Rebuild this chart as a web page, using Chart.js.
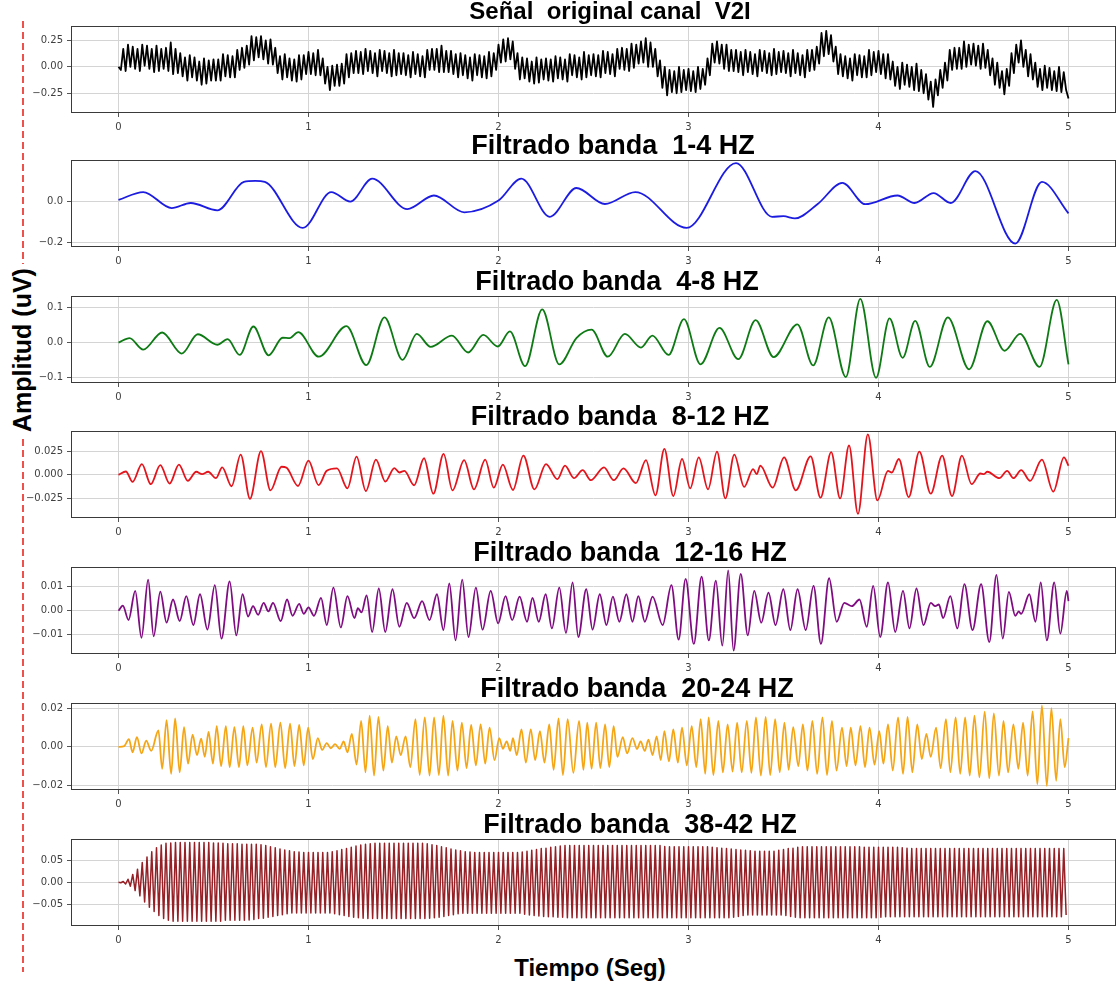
<!DOCTYPE html>
<html>
<head>
<meta charset="utf-8">
<script src="https://cdn.jsdelivr.net/npm/chart.js@4.4.1/dist/chart.umd.min.js"></script>
<style>
  body { margin: 0; width: 1119px; height: 989px; overflow: hidden; position: relative; background: #fff;
         font-family: "Liberation Sans", Arial, sans-serif; }
  .title { position: absolute; width: 600px; text-align: center; font-weight: bold;
           font-size: 27px; line-height: 30px; color: #000; white-space: pre; }
  .title.first { font-size: 24px; }
  #xlabel { position: absolute; left: 390px; top: 953px; width: 400px; text-align: center;
            font-weight: bold; font-size: 24px; line-height: 30px; }
  #ylabel { position: absolute; left: -98px; top: 335px; width: 240px; height: 30px; text-align: center;
            transform: rotate(-90deg); font-weight: bold; font-size: 25px; line-height: 30px; }
  #ylabel span { background: #fff; padding: 0 4px; }
  #guide { position: absolute; left: 0; top: 0; }
</style>
</head>
<body>
<svg id="guide" width="40" height="989"><line x1="23" y1="21" x2="23" y2="972" stroke="#e8281e" stroke-width="1.6" stroke-dasharray="7 4"/></svg>
<div id="ylabel"><span>Amplitud (uV)</span></div>
<div id="xlabel">Tiempo (Seg)</div>
<script>
// time axis
const xTicks = [0, 1, 2, 3, 4, 5];
const xTickLabels = ['0', '1', '2', '3', '4', '5'];

// y ticks per panel
const ticksRaw = [-0.25, 0, 0.25];
const labelsRaw = ['\u22120.25', '0.00', '0.25'];
const ticks1to4 = [-0.2, 0];
const labels1to4 = ['\u22120.2', '0.0'];
const ticks4to8 = [-0.1, 0, 0.1];
const labels4to8 = ['\u22120.1', '0.0', '0.1'];
const ticks8to12 = [-0.025, 0, 0.025];
const labels8to12 = ['\u22120.025', '0.000', '0.025'];
const ticks12to16 = [-0.01, 0, 0.01];
const labels12to16 = ['\u22120.01', '0.00', '0.01'];
const ticks20to24 = [-0.02, 0, 0.02];
const labels20to24 = ['\u22120.02', '0.00', '0.02'];
const ticks38to42 = [-0.05, 0, 0.05];
const labels38to42 = ['\u22120.05', '0.00', '0.05'];

// original signal: upper and lower spikes of each 40 Hz cycle (sampled every 12.5 ms)
const RAW_STEP = 0.0125;
const rawHi = [
  0.00,0.17,0.21,0.19,0.17,0.21,0.20,0.17,0.20,0.17,
  0.18,0.23,0.17,0.13,0.09,0.11,0.09,0.05,0.08,0.06,
  0.07,0.07,0.12,0.11,0.10,0.16,0.18,0.20,0.29,0.28,
  0.29,0.25,0.26,0.18,0.10,0.12,0.08,0.07,0.11,0.11,
  0.14,0.13,0.16,0.08,0.00,0.01,0.02,0.03,0.12,0.13,
  0.15,0.14,0.17,0.15,0.13,0.16,0.15,0.13,0.16,0.13,
  0.13,0.11,0.14,0.12,0.10,0.16,0.17,0.17,0.20,0.15,
  0.15,0.12,0.13,0.11,0.09,0.12,0.11,0.10,0.14,0.13,
  0.21,0.26,0.27,0.24,0.13,0.09,0.08,0.05,0.09,0.07,
  0.08,0.07,0.10,0.09,0.07,0.12,0.11,0.09,0.14,0.11,
  0.12,0.11,0.15,0.14,0.12,0.17,0.18,0.17,0.22,0.21,
  0.24,0.27,0.23,0.17,0.06,0.00,-0.03,-0.04,0.00,-0.03,
  -0.02,-0.04,0.00,-0.02,0.08,0.22,0.24,0.21,0.21,0.16,
  0.16,0.14,0.16,0.14,0.12,0.16,0.15,0.13,0.17,0.14,
  0.15,0.13,0.16,0.13,0.11,0.16,0.16,0.19,0.32,0.34,
  0.30,0.19,0.12,0.10,0.08,0.12,0.11,0.10,0.16,0.14,
  0.15,0.12,0.12,0.05,0.00,0.04,0.02,0.00,0.03,-0.03,
  -0.07,-0.14,-0.12,-0.03,0.04,0.16,0.18,0.18,0.24,0.21,
  0.22,0.20,0.22,0.16,0.08,0.04,-0.04,-0.02,0.13,0.21,
  0.25,0.16,0.12,0.04,-0.02,0.01,-0.01,-0.04,0.00,-0.05
];
const rawLo = [
  -0.03,-0.04,0.00,-0.02,-0.04,0.01,-0.02,-0.05,-0.04,-0.02,
  -0.04,-0.07,-0.06,-0.09,-0.13,-0.10,-0.13,-0.17,-0.16,-0.13,
  -0.13,-0.13,-0.09,-0.10,-0.10,-0.03,-0.01,0.02,0.06,0.09,
  0.07,0.03,0.02,-0.06,-0.12,-0.10,-0.13,-0.14,-0.12,-0.07,
  -0.07,-0.08,-0.08,-0.16,-0.22,-0.18,-0.18,-0.16,-0.10,-0.06,
  -0.06,-0.07,-0.04,-0.06,-0.09,-0.04,-0.06,-0.09,-0.08,-0.07,
  -0.08,-0.10,-0.07,-0.09,-0.10,-0.03,-0.03,-0.05,-0.05,-0.05,
  -0.07,-0.10,-0.08,-0.11,-0.13,-0.08,-0.10,-0.11,-0.09,-0.03,
  0.04,0.05,0.07,-0.02,-0.12,-0.11,-0.14,-0.16,-0.15,-0.12,
  -0.13,-0.14,-0.11,-0.12,-0.14,-0.08,-0.10,-0.12,-0.10,-0.08,
  -0.09,-0.10,-0.06,-0.07,-0.09,-0.02,-0.03,-0.04,-0.01,0.03,
  0.04,0.00,0.00,-0.09,-0.20,-0.27,-0.24,-0.25,-0.24,-0.22,
  -0.23,-0.24,-0.21,-0.17,-0.08,0.04,0.03,-0.02,-0.04,-0.04,
  -0.05,-0.08,-0.05,-0.07,-0.09,-0.04,-0.06,-0.08,-0.07,-0.05,
  -0.06,-0.09,-0.06,-0.08,-0.10,-0.04,-0.03,0.03,0.10,0.12,
  0.05,-0.07,-0.09,-0.11,-0.13,-0.08,-0.10,-0.10,-0.08,-0.05,
  -0.07,-0.11,-0.12,-0.18,-0.21,-0.17,-0.19,-0.22,-0.23,-0.25,
  -0.31,-0.38,-0.27,-0.20,-0.13,-0.03,-0.02,-0.02,0.00,0.02,
  0.01,-0.02,-0.01,-0.08,-0.17,-0.20,-0.26,-0.18,-0.06,0.04,
  0.00,-0.09,-0.12,-0.19,-0.22,-0.20,-0.22,-0.23,-0.24,-0.22
];
const rawLast = [5.0, -0.30];

// band-filtered signals: [time (s), amplitude] at each turning point
const band1to4 = [
  [0,0.008],[0.13,0.047],[0.28,-0.032],[0.38,-0.007],[0.52,-0.043],[0.66,0.097],[0.72,0.102],
  [0.77,0.097],[0.97,-0.13],[1.12,0.047],[1.22,0.0],[1.335,0.113],[1.52,-0.037],[1.66,0.03],
  [1.82,-0.053],[2.0,0.005],[2.12,0.113],[2.27,-0.075],[2.41,0.067],[2.56,-0.012],[2.72,0.047],
  [2.99,-0.13],[3.25,0.19],[3.44,-0.075],[3.5,-0.072],[3.56,-0.083],[3.68,-0.012],[3.81,0.092],
  [3.93,-0.013],[4.1,0.03],[4.19,-0.007],[4.29,0.042],[4.38,-0.007],[4.51,0.15],[4.72,-0.207],
  [4.86,0.097],[5.0,-0.058]
];
const band4to8 = [
  [0,0],[0.058,0.013],[0.13,-0.02],[0.23,0.029],[0.333,-0.031],[0.417,0.024],[0.52,-0.006],
  [0.574,0.01],[0.638,-0.035],[0.71,0.046],[0.79,-0.036],[0.864,0.014],[0.9,0.013],[0.946,0.03],
  [1.054,-0.04],[1.2,0.047],[1.304,-0.064],[1.4,0.072],[1.495,-0.049],[1.57,0.025],[1.643,-0.012],
  [1.755,0.02],[1.84,-0.028],[1.92,0.022],[1.996,-0.011],[2.06,0.032],[2.14,-0.067],[2.23,0.095],
  [2.32,-0.062],[2.41,0.013],[2.49,0.037],[2.575,-0.04],[2.665,0.025],[2.75,-0.014],[2.81,0.02],
  [2.895,-0.035],[2.976,0.067],[3.063,-0.062],[3.163,0.042],[3.262,-0.047],[3.353,0.064],
  [3.448,-0.041],[3.573,0.052],[3.656,-0.065],[3.738,0.072],[3.828,-0.098],[3.904,0.125],
  [3.987,-0.1],[4.058,0.069],[4.127,-0.043],[4.193,0.062],[4.27,-0.069],[4.365,0.072],
  [4.477,-0.076],[4.573,0.061],[4.664,-0.023],[4.745,0.025],[4.848,-0.069],[4.938,0.122],[5.0,-0.062]
];
const band8to12 = [
  [0,0],[0.039,0.0036],[0.074,-0.0076],[0.123,0.0116],[0.17,-0.0101],[0.22,0.0105],[0.269,-0.0094],
  [0.318,0.0109],[0.365,-0.0065],[0.409,0.0033],[0.44,0.0007],[0.472,0.0033],[0.513,-0.0036],
  [0.546,0.008],[0.595,-0.0123],[0.643,0.0217],[0.692,-0.0257],[0.75,0.0254],[0.8,-0.0167],
  [0.858,0.0087],[0.885,0.0075],[0.945,-0.012],[1.0,0.0152],[1.053,-0.011],[1.096,0.0043],
  [1.15,0.0069],[1.205,-0.0145],[1.253,0.0196],[1.302,-0.0174],[1.355,0.0163],[1.404,-0.0072],
  [1.452,0.0072],[1.478,0.0025],[1.505,0.0043],[1.556,-0.0112],[1.608,0.0178],[1.657,-0.0203],
  [1.711,0.0225],[1.758,-0.0167],[1.819,0.0159],[1.871,-0.0156],[1.93,0.0163],[1.975,-0.0138],
  [2.023,0.0109],[2.076,-0.0163],[2.131,0.0207],[2.189,-0.0156],[2.25,0.0116],[2.31,-0.0047],
  [2.35,0.0098],[2.397,-0.0036],[2.443,0.005],[2.486,-0.0058],[2.555,0.008],[2.607,-0.0058],
  [2.658,0.0069],[2.723,-0.009],[2.776,0.0159],[2.826,-0.0221],[2.873,0.0279],[2.92,-0.0228],
  [2.966,0.017],[3.009,-0.0145],[3.054,0.0188],[3.103,-0.0156],[3.15,0.025],[3.194,-0.0254],
  [3.241,0.0217],[3.293,-0.013],[3.34,0.0062],[3.359,0.0007],[3.378,0.0098],[3.443,-0.0138],
  [3.503,0.0188],[3.565,-0.0167],[3.643,0.0199],[3.695,-0.0246],[3.751,0.0243],[3.798,-0.0254],
  [3.845,0.0315],[3.892,-0.042],[3.944,0.0435],[3.994,-0.0275],[4.05,0.0043],[4.07,0.0025],
  [4.107,0.017],[4.159,-0.0239],[4.215,0.025],[4.275,-0.0203],[4.335,0.0207],[4.387,-0.0228],
  [4.439,0.0207],[4.49,-0.0101],[4.536,0.0014],[4.555,0.0007],[4.573,0.0033],[4.636,-0.0036],
  [4.677,0.0043],[4.71,-0.0036],[4.751,0.005],[4.798,-0.0065],[4.86,0.0163],[4.92,-0.0181],
  [4.976,0.0188],[5.0,0.0098]
];
const band12to16 = [
  [0,0],[0.023,0.0021],[0.053,-0.0039],[0.088,0.0083],[0.121,-0.0113],[0.156,0.013],[0.185,-0.0107],
  [0.22,0.008],[0.253,-0.005],[0.287,0.0047],[0.322,-0.0043],[0.357,0.0061],[0.394,-0.006],
  [0.429,0.0069],[0.468,-0.0079],[0.507,0.0107],[0.542,-0.0117],[0.585,0.0123],[0.62,-0.0103],
  [0.653,0.0069],[0.682,-0.0024],[0.708,0.0019],[0.735,-0.0017],[0.764,0.0033],[0.789,-0.0003],
  [0.813,0.0033],[0.854,-0.0043],[0.887,0.0047],[0.916,-0.0021],[0.951,0.0029],[0.975,-0.0013],
  [1.0,0.0014],[1.029,-0.0021],[1.066,0.0054],[1.096,-0.006],[1.131,0.0097],[1.17,-0.007],
  [1.205,0.0061],[1.242,-0.0031],[1.26,0.0011],[1.279,-0.0007],[1.306,0.0064],[1.335,-0.0089],
  [1.37,0.0093],[1.404,-0.0089],[1.442,0.009],[1.478,-0.0067],[1.517,0.0033],[1.556,-0.0031],
  [1.598,0.004],[1.637,-0.0039],[1.676,0.0069],[1.71,-0.0081],[1.741,0.0114],[1.774,-0.0124],
  [1.809,0.013],[1.842,-0.011],[1.881,0.0097],[1.916,-0.0079],[1.959,0.0083],[1.998,-0.0053],
  [2.037,0.0061],[2.072,-0.0039],[2.111,0.0059],[2.15,-0.0046],[2.179,0.0054],[2.212,-0.0046],
  [2.248,0.0069],[2.281,-0.0074],[2.32,0.0097],[2.355,-0.0093],[2.39,0.0119],[2.42,-0.011],
  [2.462,0.009],[2.495,-0.0079],[2.533,0.0069],[2.568,-0.006],[2.602,0.0059],[2.636,-0.0046],
  [2.673,0.0069],[2.705,-0.0046],[2.736,0.0061],[2.77,-0.0046],[2.811,0.0059],[2.864,-0.006],
  [2.91,0.0107],[2.948,-0.0121],[2.985,0.0133],[3.028,-0.0139],[3.069,0.0143],[3.107,-0.0124],
  [3.144,0.0126],[3.178,-0.0146],[3.209,0.0169],[3.237,-0.0167],[3.275,0.0154],[3.312,-0.0103],
  [3.346,0.0083],[3.383,-0.005],[3.421,0.0076],[3.458,-0.006],[3.499,0.009],[3.536,-0.0081],
  [3.574,0.009],[3.617,-0.0081],[3.658,0.0104],[3.697,-0.0139],[3.74,0.0136],[3.78,-0.0046],
  [3.82,0.0033],[3.86,0.0019],[3.9,0.0047],[3.938,-0.0067],[3.972,0.0104],[4.009,-0.011],
  [4.05,0.0119],[4.088,-0.0089],[4.129,0.0083],[4.163,-0.0074],[4.2,0.0093],[4.237,-0.006],
  [4.275,0.0033],[4.299,0.0019],[4.318,0.0026],[4.34,-0.0031],[4.378,0.0061],[4.415,-0.0074],
  [4.452,0.0111],[4.495,-0.0081],[4.54,0.0111],[4.583,-0.0131],[4.621,0.015],[4.654,-0.0117],
  [4.686,0.0079],[4.72,-0.0021],[4.738,-0.0003],[4.751,-0.0013],[4.794,0.0069],[4.826,-0.0046],
  [4.854,0.0119],[4.886,-0.0124],[4.925,0.0119],[4.957,-0.0096],[4.991,0.0083],[5.0,0.004]
];
const band20to24 = [
  [0,0],[0.03,0.0004],[0.055,0.004],[0.074,-0.0028],[0.097,0.005],[0.121,-0.0034],[0.146,0.0032],
  [0.172,-0.0021],[0.21,0.0085],[0.23,-0.0114],[0.253,0.0139],[0.277,-0.014],[0.298,0.0148],
  [0.322,-0.0132],[0.345,0.0103],[0.366,-0.0087],[0.39,0.0064],[0.413,-0.0043],[0.435,0.0043],
  [0.454,-0.0052],[0.474,0.0078],[0.497,-0.0087],[0.517,0.0108],[0.54,-0.01],[0.565,0.0108],
  [0.585,-0.0105],[0.61,0.0103],[0.634,-0.0105],[0.657,0.0108],[0.678,-0.0096],[0.706,0.01],
  [0.727,-0.0082],[0.754,0.0117],[0.776,-0.0105],[0.803,0.0121],[0.825,-0.0105],[0.852,0.0126],
  [0.877,-0.011],[0.903,0.0121],[0.926,-0.01],[0.951,0.0114],[0.975,-0.0096],[0.998,0.01],
  [1.023,-0.0064],[1.049,0.0046],[1.072,-0.0016],[1.096,0.002],[1.117,-0.0007],[1.14,0.0014],
  [1.164,-0.001],[1.185,0.0028],[1.205,-0.0028],[1.228,0.0068],[1.253,-0.0092],[1.277,0.0135],
  [1.3,-0.0132],[1.322,0.0162],[1.345,-0.0149],[1.368,0.0156],[1.394,-0.0123],[1.417,0.0108],
  [1.439,-0.0082],[1.462,0.0055],[1.485,-0.0043],[1.511,0.0055],[1.536,-0.0105],[1.563,0.0144],
  [1.585,-0.0146],[1.612,0.0153],[1.637,-0.0149],[1.661,0.0153],[1.686,-0.0146],[1.71,0.0162],
  [1.735,-0.0149],[1.758,0.0135],[1.784,-0.0123],[1.807,0.0126],[1.832,-0.011],[1.856,0.0114],
  [1.881,-0.0096],[1.906,0.0117],[1.93,-0.0087],[1.953,0.01],[1.979,-0.0069],[2.004,0.0046],
  [2.023,-0.001],[2.043,0.0028],[2.062,-0.0021],[2.076,0.0046],[2.096,-0.0043],[2.121,0.0091],
  [2.144,-0.0082],[2.17,0.0091],[2.193,-0.0069],[2.218,0.0082],[2.242,-0.0082],[2.267,0.0117],
  [2.29,-0.0119],[2.316,0.0148],[2.339,-0.0146],[2.364,0.0144],[2.394,-0.0135],[2.424,0.0135],
  [2.447,-0.0119],[2.467,0.0126],[2.49,-0.0114],[2.514,0.0126],[2.536,-0.011],[2.561,0.0117],
  [2.583,-0.0105],[2.606,0.0108],[2.626,-0.0052],[2.654,0.005],[2.677,-0.0034],[2.705,0.0046],
  [2.729,-0.0011],[2.748,0.0028],[2.77,-0.0021],[2.789,0.0037],[2.811,-0.0043],[2.832,0.0055],
  [2.854,-0.0069],[2.873,0.0082],[2.897,-0.0075],[2.92,0.0091],[2.944,-0.0082],[2.966,0.01],
  [2.991,-0.0096],[3.017,0.0108],[3.041,-0.0105],[3.064,0.0144],[3.088,-0.014],[3.106,0.0153],
  [3.131,-0.0146],[3.157,0.0135],[3.181,-0.0132],[3.206,0.0117],[3.232,-0.0128],[3.256,0.0126],
  [3.28,-0.0132],[3.307,0.0135],[3.331,-0.0135],[3.355,0.0153],[3.381,-0.0149],[3.406,0.0156],
  [3.43,-0.0146],[3.456,0.0144],[3.48,-0.0132],[3.505,0.0126],[3.527,-0.0119],[3.551,0.0103],
  [3.578,-0.01],[3.602,0.0117],[3.626,-0.0123],[3.652,0.0135],[3.677,-0.014],[3.705,0.0153],
  [3.729,-0.0146],[3.755,0.0135],[3.779,-0.0123],[3.808,0.01],[3.832,-0.01],[3.854,0.01],
  [3.879,-0.0096],[3.905,0.0108],[3.929,-0.0105],[3.953,0.01],[3.979,-0.0092],[4.004,0.0082],
  [4.026,-0.0087],[4.05,0.0117],[4.075,-0.0123],[4.103,0.0153],[4.129,-0.014],[4.153,0.0156],
  [4.178,-0.0132],[4.204,0.0117],[4.228,-0.0064],[4.252,0.0068],[4.275,-0.0052],[4.303,0.01],
  [4.327,-0.011],[4.355,0.0144],[4.378,-0.0132],[4.406,0.0153],[4.43,-0.014],[4.456,0.0153],
  [4.48,-0.0149],[4.505,0.0162],[4.531,-0.0158],[4.559,0.0183],[4.583,-0.0164],[4.607,0.0174],
  [4.634,-0.0149],[4.658,0.0135],[4.682,-0.0132],[4.71,0.0117],[4.736,-0.0114],[4.761,0.0126],
  [4.785,-0.0149],[4.811,0.0185],[4.836,-0.0194],[4.86,0.0215],[4.886,-0.0203],[4.91,0.0201],
  [4.935,-0.0176],[4.957,0.0144],[4.98,-0.0105],[5.0,0.0046]
];

// 38-42 Hz band: crest and trough of each 40 Hz cycle
const BAND38_STEP = 0.0125;
const band38to42Hi = [
  0.000,0.002,0.007,0.018,0.030,0.045,0.058,0.070,0.079,0.085,
  0.089,0.090,0.091,0.091,0.091,0.091,0.091,0.091,0.091,0.091,
  0.090,0.090,0.089,0.088,0.088,0.088,0.087,0.087,0.087,0.087,
  0.086,0.084,0.081,0.079,0.076,0.074,0.072,0.070,0.069,0.068,
  0.068,0.068,0.068,0.068,0.068,0.070,0.072,0.075,0.077,0.080,
  0.083,0.085,0.087,0.088,0.089,0.089,0.089,0.089,0.089,0.089,
  0.089,0.089,0.089,0.089,0.089,0.088,0.086,0.084,0.081,0.079,
  0.076,0.074,0.072,0.070,0.069,0.068,0.068,0.068,0.068,0.068,
  0.068,0.068,0.068,0.068,0.068,0.069,0.071,0.073,0.075,0.077,
  0.078,0.080,0.081,0.083,0.084,0.084,0.084,0.084,0.084,0.084,
  0.084,0.084,0.084,0.084,0.084,0.084,0.084,0.084,0.084,0.084,
  0.084,0.084,0.084,0.084,0.084,0.082,0.081,0.081,0.081,0.081,
  0.081,0.081,0.081,0.081,0.081,0.080,0.079,0.078,0.077,0.076,
  0.075,0.074,0.073,0.072,0.071,0.071,0.071,0.071,0.071,0.073,
  0.075,0.077,0.078,0.080,0.081,0.081,0.081,0.081,0.081,0.081,
  0.081,0.081,0.081,0.081,0.081,0.081,0.081,0.080,0.080,0.080,
  0.080,0.080,0.080,0.080,0.080,0.079,0.078,0.077,0.077,0.077,
  0.077,0.077,0.077,0.077,0.077,0.077,0.077,0.077,0.077,0.077,
  0.077,0.077,0.077,0.077,0.077,0.077,0.077,0.077,0.077,0.077,
  0.077,0.077,0.077,0.077,0.077,0.077,0.077,0.077,0.077,0.077
];
const band38to42Lo = [
  -0.001,-0.004,-0.009,-0.019,-0.031,-0.045,-0.057,-0.067,-0.076,-0.083,
  -0.087,-0.089,-0.089,-0.089,-0.089,-0.089,-0.089,-0.089,-0.089,-0.089,
  -0.089,-0.089,-0.087,-0.087,-0.087,-0.087,-0.087,-0.086,-0.085,-0.083,
  -0.082,-0.080,-0.078,-0.076,-0.074,-0.072,-0.070,-0.070,-0.070,-0.070,
  -0.070,-0.070,-0.070,-0.070,-0.070,-0.072,-0.074,-0.076,-0.078,-0.080,
  -0.081,-0.082,-0.083,-0.083,-0.083,-0.083,-0.083,-0.083,-0.083,-0.083,
  -0.083,-0.083,-0.083,-0.083,-0.083,-0.082,-0.081,-0.080,-0.078,-0.076,
  -0.074,-0.072,-0.071,-0.071,-0.071,-0.071,-0.071,-0.071,-0.071,-0.071,
  -0.071,-0.071,-0.071,-0.071,-0.071,-0.073,-0.075,-0.076,-0.077,-0.078,
  -0.079,-0.079,-0.080,-0.080,-0.081,-0.081,-0.081,-0.081,-0.081,-0.081,
  -0.081,-0.081,-0.081,-0.081,-0.081,-0.081,-0.081,-0.081,-0.081,-0.081,
  -0.081,-0.081,-0.081,-0.081,-0.081,-0.081,-0.081,-0.081,-0.081,-0.081,
  -0.081,-0.081,-0.081,-0.081,-0.081,-0.081,-0.081,-0.081,-0.081,-0.080,
  -0.078,-0.076,-0.075,-0.075,-0.075,-0.075,-0.075,-0.075,-0.075,-0.075,
  -0.076,-0.078,-0.080,-0.081,-0.081,-0.081,-0.081,-0.081,-0.081,-0.081,
  -0.081,-0.081,-0.081,-0.081,-0.081,-0.081,-0.081,-0.081,-0.081,-0.081,
  -0.080,-0.079,-0.079,-0.079,-0.079,-0.079,-0.079,-0.079,-0.079,-0.079,
  -0.079,-0.079,-0.079,-0.079,-0.079,-0.079,-0.079,-0.079,-0.079,-0.079,
  -0.079,-0.079,-0.079,-0.079,-0.079,-0.079,-0.079,-0.079,-0.079,-0.079,
  -0.079,-0.079,-0.079,-0.079,-0.079,-0.079,-0.079,-0.079,-0.079,-0.075
];

// layout of each axes box
const PLOT_LEFT = 71;
const PLOT_RIGHT = 1116;
const PLOT_H = 87;
const PAD_TOP = 12;
const AXIS_H = 26;
const CANVAS_W = 1124;

function toPoints(pairs) {
    return pairs.map(([x, y]) => ({ x, y }));
}

// crest / trough pairs laid out one half-step apart
function zigzag(hi, lo, step) {
    const pts = [];
    hi.forEach((v, i) => {
        pts.push({ x: 2 * i * step, y: v });
        pts.push({ x: (2 * i + 1) * step, y: lo[i] });
    });
    return pts;
}

const panels = [
    { title: 'Señal  original canal  V2I', first: true, top: 26, titleX: 610, color: '#000000', width: 1.8,
      min: -0.437, max: 0.386, ticks: ticksRaw, labels: labelsRaw, smooth: false,
      points: zigzag(rawHi, rawLo, RAW_STEP).concat([{ x: rawLast[0], y: rawLast[1] }]) },
    { title: 'Filtrado banda  1-4 HZ', top: 160, titleX: 613, color: '#1c1ce0', width: 1.8, min: -0.224, max: 0.205,
      ticks: ticks1to4, labels: labels1to4, smooth: true, points: toPoints(band1to4) },
    { title: 'Filtrado banda  4-8 HZ', top: 296, titleX: 617, color: '#0d7a14', width: 1.8, min: -0.115, max: 0.133,
      ticks: ticks4to8, labels: labels4to8, smooth: true, points: toPoints(band4to8) },
    { title: 'Filtrado banda  8-12 HZ', top: 431, titleX: 620, color: '#e3141c', width: 1.8, min: -0.0464, max: 0.0471,
      ticks: ticks8to12, labels: labels8to12, smooth: true, points: toPoints(band8to12) },
    { title: 'Filtrado banda  12-16 HZ', top: 567, titleX: 630, color: '#7f0c80', width: 1.8, min: -0.0181, max: 0.0183,
      ticks: ticks12to16, labels: labels12to16, smooth: true, points: toPoints(band12to16) },
    { title: 'Filtrado banda  20-24 HZ', top: 703, titleX: 637, color: '#f4a616', width: 1.8, min: -0.0224, max: 0.0228,
      ticks: ticks20to24, labels: labels20to24, smooth: true, points: toPoints(band20to24) },
    { title: 'Filtrado banda  38-42 HZ', top: 839, titleX: 640, color: '#952026', width: 1.5, min: -0.1, max: 0.099,
      ticks: ticks38to42, labels: labels38to42, smooth: false,
      points: zigzag(band38to42Hi, band38to42Lo, BAND38_STEP) }
];

const frame = {
    id: 'frame',
    afterDatasetsDraw(chart) {
        const { ctx, chartArea: a } = chart;
        ctx.save();
        ctx.strokeStyle = '#3a3a3a';
        ctx.lineWidth = 1;
        ctx.strokeRect(a.left + 0.5, a.top + 0.5, a.right - a.left - 1, a.bottom - a.top - 1);
        ctx.restore();
    }
};

const tickFont = { family: 'DejaVu Sans', size: 10 };
const gridStyle = { color: '#d4d4d4', lineWidth: 1, tickLength: 4, tickColor: '#555555' };

function makePanel(p) {
    const canvas = document.createElement('canvas');
    canvas.width = CANVAS_W;
    canvas.height = PAD_TOP + PLOT_H + AXIS_H;
    canvas.style.cssText = `position:absolute;left:0;top:${p.top - PAD_TOP}px;`;
    document.body.appendChild(canvas);

    const title = document.createElement('div');
    title.className = p.first ? 'title first' : 'title';
    title.textContent = p.title;
    title.style.top = `${p.top - 30}px`;
    title.style.left = `${p.titleX - 300}px`;
    document.body.appendChild(title);

    return new Chart(canvas.getContext('2d'), {
        type: 'line',
        data: {
            datasets: [{
                data: p.points,
                borderColor: p.color,
                borderWidth: p.width,
                borderJoinStyle: 'round',
                pointRadius: 0,
                fill: false,
                tension: p.smooth ? 0.4 : 0,
                cubicInterpolationMode: p.smooth ? 'monotone' : 'default'
            }]
        },
        options: {
            responsive: false,
            animation: false,
            events: [],
            layout: { padding: { top: PAD_TOP, right: CANVAS_W - PLOT_RIGHT, left: 0, bottom: 0 } },
            plugins: { legend: { display: false }, tooltip: { enabled: false } },
            scales: {
                x: {
                    type: 'linear',
                    min: -0.25,
                    max: 5.25,
                    bounds: 'data',
                    afterBuildTicks: (s) => { s.ticks = xTicks.map((v) => ({ value: v })); },
                    afterFit: (s) => { s.height = AXIS_H; },
                    grid: gridStyle,
                    border: { display: false },
                    ticks: {
                        autoSkip: false,
                        maxRotation: 0,
                        padding: 4,
                        font: tickFont,
                        color: '#404040',
                        callback: (v, i) => xTickLabels[i]
                    }
                },
                y: {
                    type: 'linear',
                    min: p.min,
                    max: p.max,
                    bounds: 'data',
                    afterBuildTicks: (s) => { s.ticks = p.ticks.map((v) => ({ value: v })); },
                    afterFit: (s) => { s.width = PLOT_LEFT; },
                    grid: gridStyle,
                    border: { display: false },
                    ticks: {
                        autoSkip: false,
                        padding: 4,
                        font: tickFont,
                        color: '#404040',
                        callback: (v, i) => p.labels[i]
                    }
                }
            }
        },
        plugins: [frame]
    });
}

panels.forEach(makePanel);
</script>
</body>
</html>
